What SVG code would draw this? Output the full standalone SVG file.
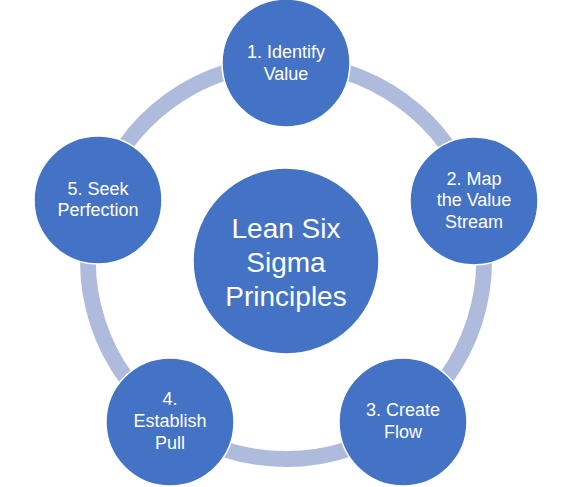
<svg xmlns="http://www.w3.org/2000/svg" width="570" height="487" viewBox="0 0 570 487">
<style>
.ring{fill:none;stroke:#AFBBDD;stroke-width:16}
.node{fill:#4472C4;stroke:#FFFFFF;stroke-width:1.5}
.t{fill:#FFFFFF;font-family:"Liberation Sans","Open Sans",sans-serif;font-size:18px;text-anchor:middle;dominant-baseline:central}
.tc{font-size:28px}
</style>
<rect width="570" height="487" fill="#FFFFFF"/>
<g id="connectors">
<path class="ring" d="M286 63 A198 198 0 0 1 474.3 199.8"/>
<path class="ring" d="M474.3 199.8 A198 198 0 0 1 402.4 421.2"/>
<path class="ring" d="M402.4 421.2 A198 198 0 0 1 169.6 421.2"/>
<path class="ring" d="M169.6 421.2 A198 198 0 0 1 97.7 199.8"/>
<path class="ring" d="M97.7 199.8 A198 198 0 0 1 286 63"/>
</g>
<g id="center">
<circle class="node" cx="286" cy="261" r="93"/>
<text class="t tc" x="286" y="228">Lean Six</text>
<text class="t tc" x="286" y="262">Sigma</text>
<text class="t tc" x="286" y="296">Principles</text>
</g>
<g id="node1">
<circle class="node" cx="286" cy="63" r="64"/>
<text class="t" x="286" y="52">1. Identify</text>
<text class="t" x="286" y="74">Value</text>
</g>
<g id="node2">
<circle class="node" cx="474" cy="201" r="64"/>
<text class="t" x="474" y="179">2. Map</text>
<text class="t" x="474" y="200">the Value</text>
<text class="t" x="474" y="222">Stream</text>
</g>
<g id="node3">
<circle class="node" cx="403" cy="422" r="64"/>
<text class="t" x="403" y="410">3. Create</text>
<text class="t" x="403" y="432">Flow</text>
</g>
<g id="node4">
<circle class="node" cx="170" cy="422" r="64"/>
<text class="t" x="170" y="399">4.</text>
<text class="t" x="170" y="421">Establish</text>
<text class="t" x="170" y="443">Pull</text>
</g>
<g id="node5">
<circle class="node" cx="98" cy="200" r="64"/>
<text class="t" x="98" y="189">5. Seek</text>
<text class="t" x="98" y="210">Perfection</text>
</g>
</svg>
